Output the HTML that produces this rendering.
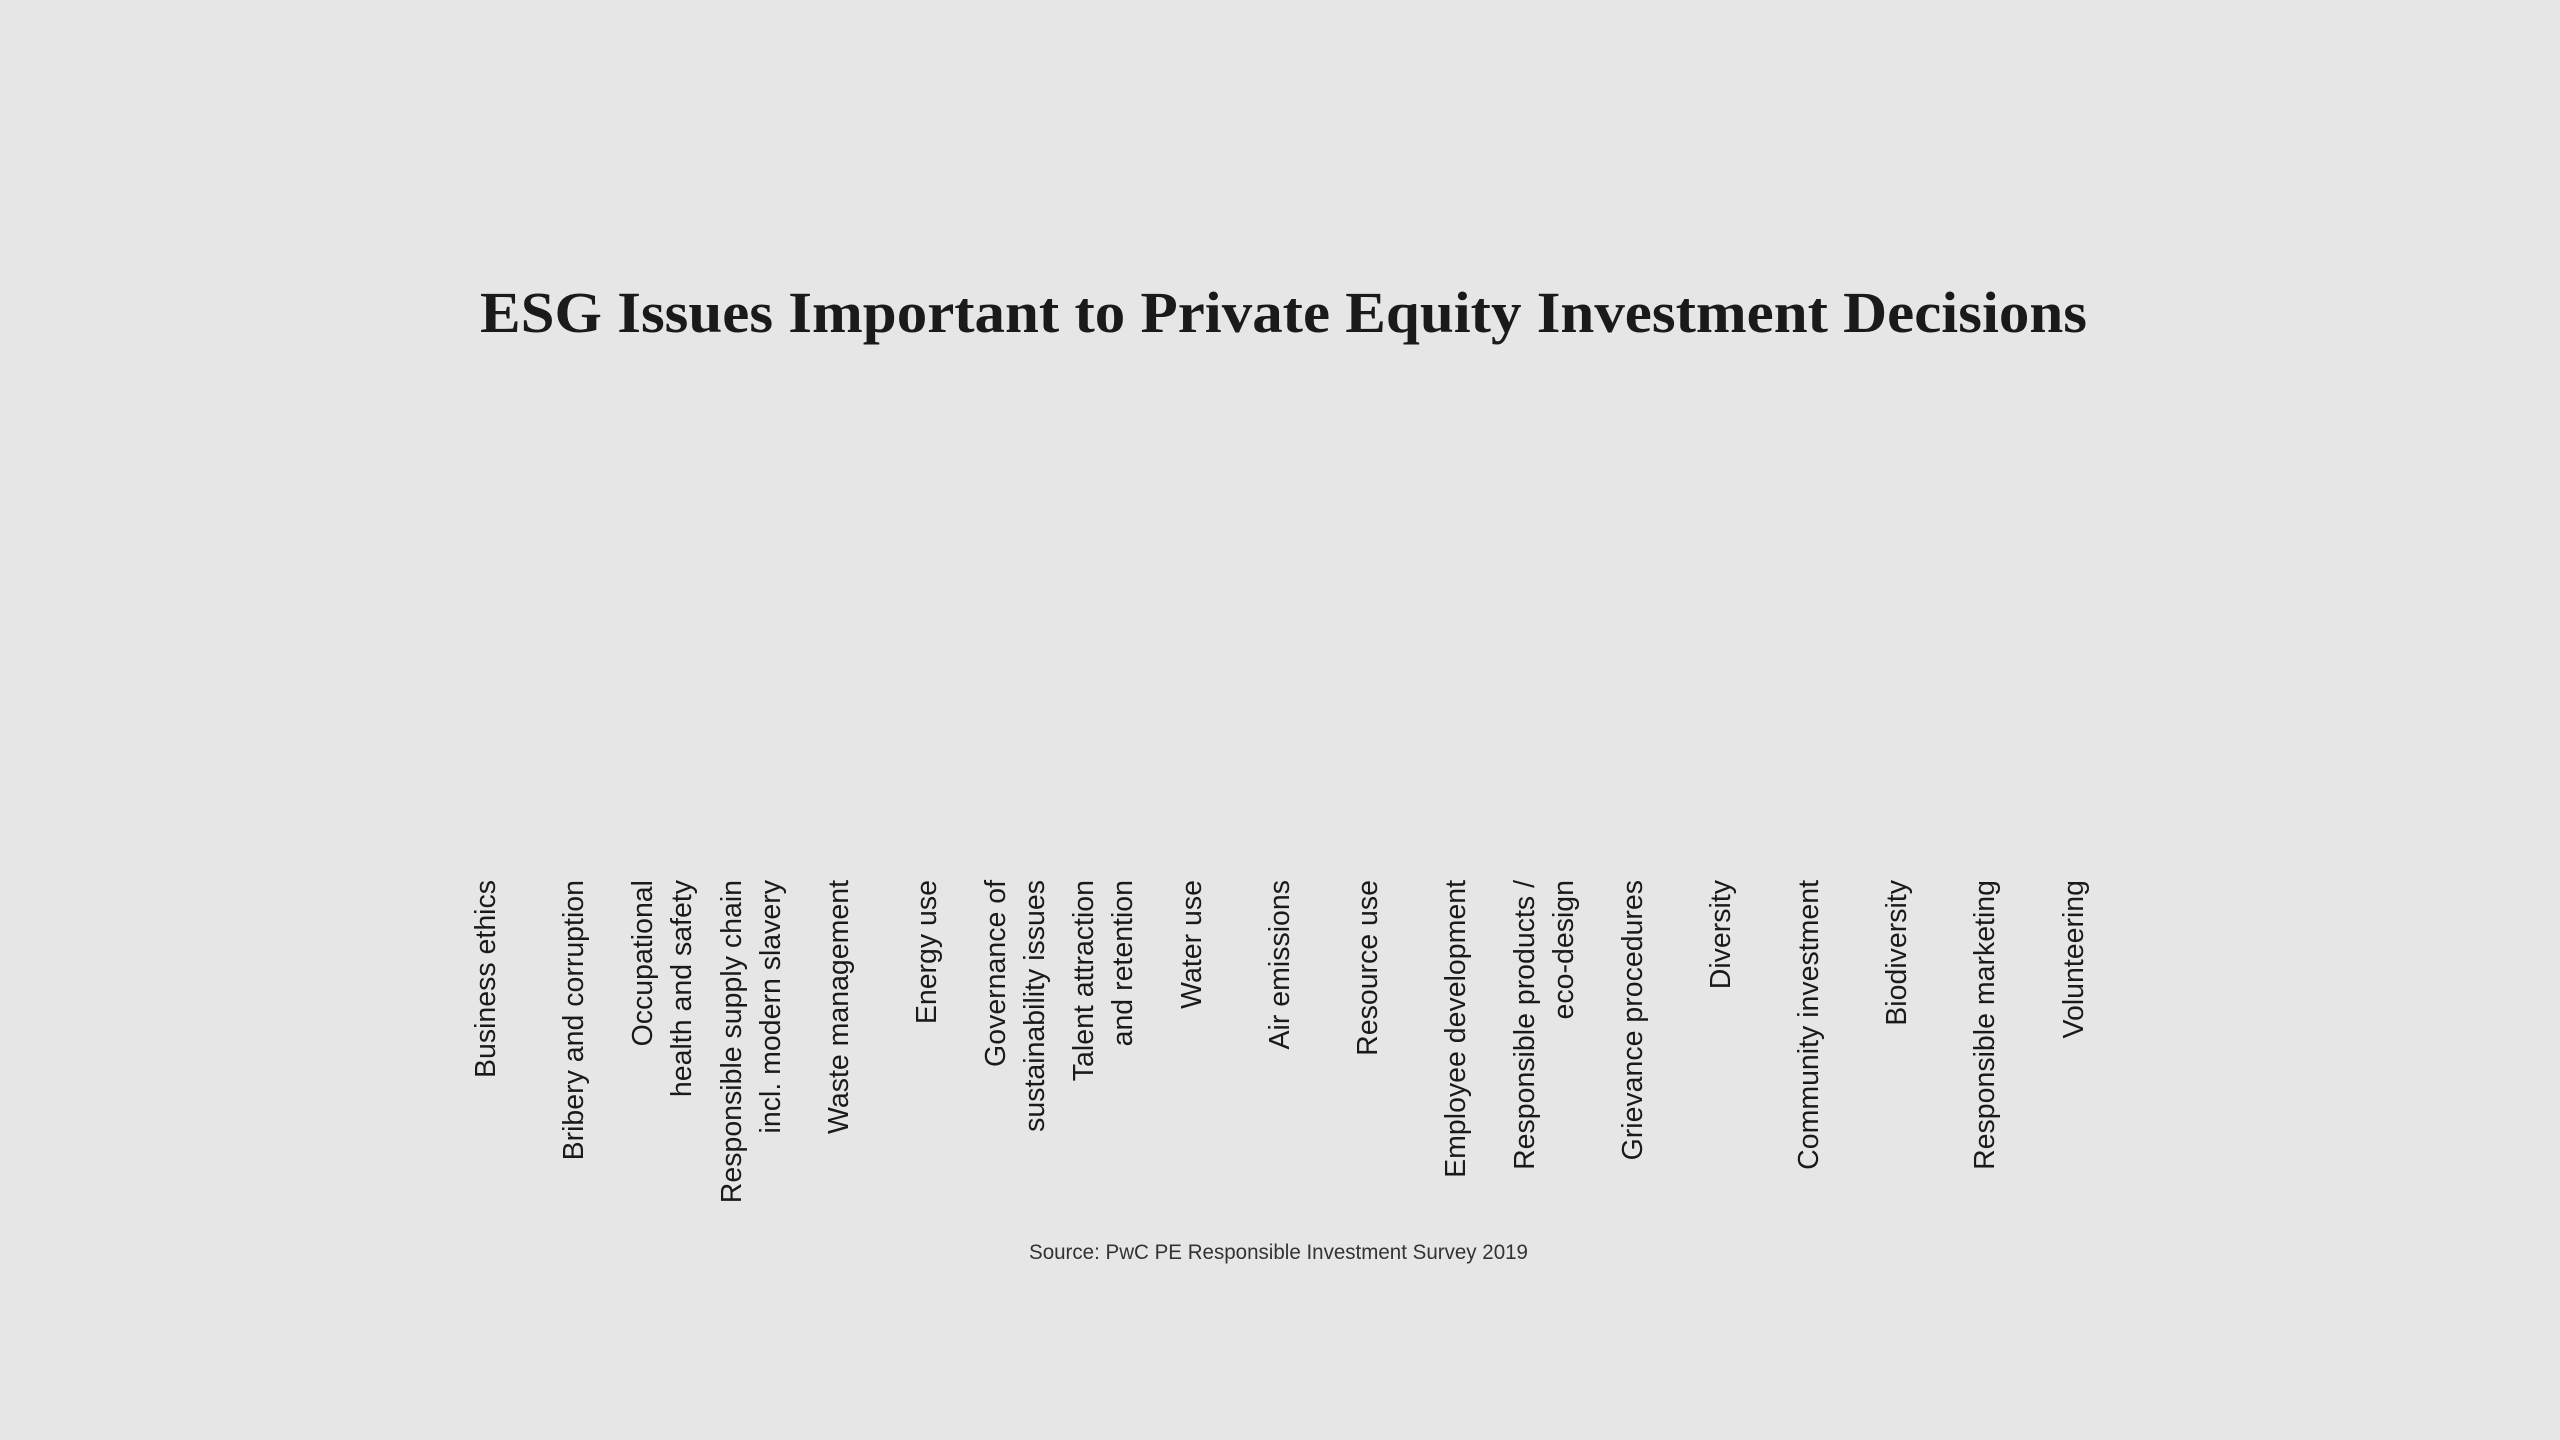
<!DOCTYPE html>
<html><head><meta charset="utf-8"><style>
html,body{margin:0;padding:0;background:#e6e6e6;}
svg{display:block;}
.t{font-family:"Liberation Serif",serif;font-weight:bold;fill:#1a1a1a;}
.l{font-family:"Liberation Sans",sans-serif;font-size:28.5px;fill:#1a1a1a;text-anchor:end;}
.s{font-family:"Liberation Sans",sans-serif;font-size:21.5px;fill:#333;}
</style></head><body>
<svg width="2560" height="1440" viewBox="0 0 2560 1440" xmlns="http://www.w3.org/2000/svg">
<rect width="2560" height="1440" fill="#e6e6e6"/>
<text class="t" x="480" y="332" font-size="58" textLength="1607" lengthAdjust="spacingAndGlyphs">ESG Issues Important to Private Equity Investment Decisions</text>
<g class="l">
<g transform="translate(485,880) rotate(-90)"><text class="l" y="10">Business ethics</text></g>
<g transform="translate(573,880) rotate(-90)"><text class="l" y="10">Bribery and corruption</text></g>
<g transform="translate(661,880) rotate(-90)"><text class="l" y="-9">Occupational</text><text class="l" y="30">health and safety</text></g>
<g transform="translate(750,880) rotate(-90)"><text class="l" y="-9">Responsible supply chain</text><text class="l" y="30">incl. modern slavery</text></g>
<g transform="translate(838,880) rotate(-90)"><text class="l" y="10">Waste management</text></g>
<g transform="translate(926,880) rotate(-90)"><text class="l" y="10">Energy use</text></g>
<g transform="translate(1014,880) rotate(-90)"><text class="l" y="-9">Governance of</text><text class="l" y="30">sustainability issues</text></g>
<g transform="translate(1102,880) rotate(-90)"><text class="l" y="-9">Talent attraction</text><text class="l" y="30">and retention</text></g>
<g transform="translate(1191,880) rotate(-90)"><text class="l" y="10">Water use</text></g>
<g transform="translate(1279,880) rotate(-90)"><text class="l" y="10">Air emissions</text></g>
<g transform="translate(1367,880) rotate(-90)"><text class="l" y="10">Resource use</text></g>
<g transform="translate(1455,880) rotate(-90)"><text class="l" y="10">Employee development</text></g>
<g transform="translate(1543,880) rotate(-90)"><text class="l" y="-9">Responsible products /</text><text class="l" y="30">eco-design</text></g>
<g transform="translate(1632,880) rotate(-90)"><text class="l" y="10">Grievance procedures</text></g>
<g transform="translate(1720,880) rotate(-90)"><text class="l" y="10">Diversity</text></g>
<g transform="translate(1808,880) rotate(-90)"><text class="l" y="10">Community investment</text></g>
<g transform="translate(1896,880) rotate(-90)"><text class="l" y="10">Biodiversity</text></g>
<g transform="translate(1984,880) rotate(-90)"><text class="l" y="10">Responsible marketing</text></g>
<g transform="translate(2073,880) rotate(-90)"><text class="l" y="10">Volunteering</text></g>
</g>
<text class="s" x="1029" y="1259" textLength="499" lengthAdjust="spacingAndGlyphs">Source: PwC PE Responsible Investment Survey 2019</text>
</svg>
</body></html>
